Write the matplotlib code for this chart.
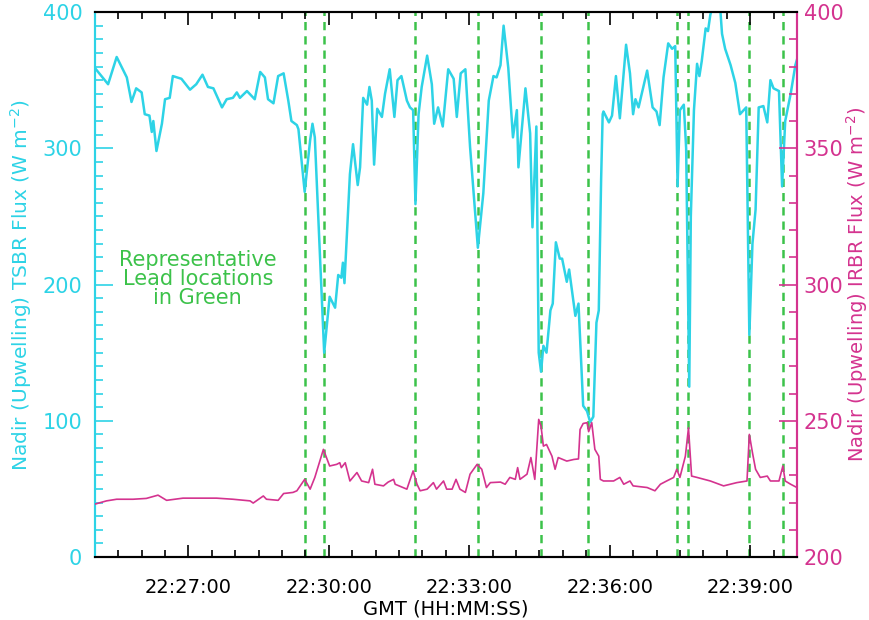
import matplotlib
matplotlib.use("Agg")
import matplotlib.pyplot as plt
from matplotlib.ticker import MultipleLocator, FuncFormatter

START = 22 * 3600 + 25 * 60   # 22:25:00, time axis is seconds after this

# TSBR (shortwave) upwelling flux, left axis
tsbr_t = [0, 17, 28, 41, 47, 53, 60, 64, 70, 73, 75, 79, 86, 90, 96, 100, 111, 122, 130,
          138, 145, 152, 163, 169, 177, 182, 186, 195, 205, 212, 218, 222, 229, 235, 242,
          248, 252, 259, 261, 269, 276, 279, 282, 291, 294, 301, 308, 312, 316, 318, 320,
          327, 331, 337, 340, 344, 349, 352, 355, 358, 362, 368, 372, 378, 384, 388, 393,
          400, 404, 408, 411, 415, 419, 426, 432, 435, 440, 446, 453, 460, 464, 469, 475,
          481, 491, 498, 505, 511, 515, 520, 524, 530, 536, 541, 543, 552, 558, 561, 566,
          569, 572, 575, 579, 584, 587, 591, 596, 599, 605, 608, 616, 620, 626, 631, 635,
          639, 643, 646, 649, 651, 652, 659, 663, 668, 673, 681, 686, 690, 693, 697, 708,
          715, 720, 724, 729, 735, 740, 744, 747, 750, 755, 758, 762, 764, 768, 772, 775,
          778, 783, 786, 789, 795, 801, 804, 808, 815, 821, 827, 835, 839, 843, 847, 851,
          857, 862, 866, 870, 877, 881, 885, 892, 898, 900]
tsbr = [359, 347, 367, 352, 334, 344, 341, 325, 324, 312, 320, 298, 318, 336, 337, 353, 351,
        343, 347, 354, 345, 344, 330, 336, 337, 341, 337, 342, 336, 356, 352, 336, 333, 353,
        355, 335, 320, 317, 314, 268, 306, 318, 308, 189, 150, 191, 183, 207, 205, 216, 201,
        281, 303, 273, 286, 337, 332, 345, 335, 288, 329, 323, 340, 358, 323, 350, 353, 335,
        330, 328, 259, 325, 345, 368, 347, 318, 330, 316, 358, 351, 323, 355, 358, 301, 227,
        267, 335, 353, 352, 361, 390, 359, 308, 328, 286, 344, 311, 242, 316, 150, 136, 155,
        150, 181, 186, 231, 219, 219, 202, 211, 177, 186, 111, 107, 99, 103, 172, 181, 277,
        325, 327, 319, 324, 353, 322, 376, 355, 325, 336, 330, 357, 330, 327, 317, 352, 377,
        373, 375, 272, 328, 332, 300, 125, 250, 328, 362, 353, 364, 388, 386, 398, 410, 408,
        384, 373, 361, 348, 325, 330, 163, 230, 255, 330, 331, 319, 350, 344, 342, 272, 320,
        340, 361, 365]

# IRBR (longwave) upwelling flux, right axis
irbr_t = [0, 15, 28, 49, 66, 81, 92, 113, 135, 156, 177, 199, 203, 216, 220, 235, 242, 254,
          259, 269, 276, 282, 293, 301, 310, 314, 316, 321, 327, 336, 342, 351, 356, 359, 370,
          376, 383, 385, 400, 408, 413, 417, 426, 434, 438, 447, 451, 458, 463, 468, 475, 481,
          490, 496, 502, 507, 520, 526, 532, 539, 542, 545, 554, 559, 564, 569, 572, 575, 579,
          586, 590, 594, 605, 614, 620, 622, 626, 631, 633, 637, 641, 646, 648, 652, 665, 673,
          678, 686, 690, 708, 718, 725, 733, 742, 746, 750, 757, 761, 765, 772, 789, 806, 823,
          836, 839, 843, 847, 853, 862, 866, 877, 882, 885, 892, 900]
irbr = [219.4, 220.6, 221.2, 221.2, 221.5, 222.7, 220.8, 221.6, 221.6, 221.6, 221.2, 220.6,
        219.8, 222.4, 221.2, 220.8, 223.3, 223.7, 224.3, 228.5, 224.9, 229.2, 239.5, 233.4,
        234.0, 234.6, 232.8, 234.6, 227.9, 231.0, 227.9, 227.3, 232.2, 226.7, 226.1, 227.5,
        228.5, 226.7, 224.9, 231.6, 226.7, 224.3, 224.9, 227.3, 224.9, 227.9, 224.9, 224.9,
        228.5, 224.9, 223.7, 230.4, 234.0, 232.2, 225.5, 227.3, 227.5, 226.7, 229.2, 228.5,
        232.8, 228.5, 230.4, 236.5, 228.5, 250.5, 248.0, 240.7, 241.3, 237.0, 232.2, 236.5,
        235.2, 235.8, 236.0, 246.8, 249.0, 249.3, 246.0, 249.3, 239.5, 237.0, 228.5, 227.9,
        227.9, 229.2, 226.7, 227.9, 226.1, 225.5, 224.3, 226.7, 227.9, 229.2, 232.2, 229.2,
        237.0, 247.4, 229.7, 229.2, 227.9, 226.1, 227.3, 227.9, 245.0, 238.3, 232.2, 229.2,
        229.7, 227.9, 227.9, 233.4, 227.9, 226.7, 225.5]

# representative lead locations
leads = [269, 294, 410, 491, 572, 632, 746, 761, 839, 882]

CYAN = "#2dd3e6"
MAGENTA = "#d4338f"
GREEN = "#3cc24a"


def hms(x, pos):
    s = int(round(START + x))
    return "%02d:%02d:%02d" % (s // 3600, (s // 60) % 60, s % 60)


fig = plt.figure(figsize=(8.7, 6.2), dpi=100)
ax = fig.add_axes([0.109, 0.1016, 0.807, 0.879])
ax2 = ax.twinx()

for x in leads:
    ax.axvline(x, color=GREEN, lw=1.8, linestyle=(0, (3.3, 2.4)), zorder=1)

ax.plot(tsbr_t, tsbr, color=CYAN, lw=1.8, zorder=3)
ax2.plot(irbr_t, irbr, color=MAGENTA, lw=1.2, zorder=3)

ax.set_xlim(0, 900)
ax.set_ylim(0, 400)
ax2.set_ylim(200, 400)

# major ticks on whole 3-minute marks of the clock (22:27, 22:30, ...)
ax.xaxis.set_major_locator(MultipleLocator(180, offset=120))
ax.xaxis.set_minor_locator(MultipleLocator(30))
ax.xaxis.set_major_formatter(FuncFormatter(hms))
ax.yaxis.set_major_locator(MultipleLocator(100))
ax.yaxis.set_minor_locator(MultipleLocator(10))
ax2.yaxis.set_major_locator(MultipleLocator(50))
ax2.yaxis.set_minor_locator(MultipleLocator(10))

ax.tick_params(axis="x", which="both", direction="in", top=True, colors="black",
               labelsize=14, pad=15)
ax.tick_params(axis="x", which="major", length=9, width=1.2)
ax.tick_params(axis="x", which="minor", length=5, width=1.2)
ax.tick_params(axis="y", which="both", direction="in", colors=CYAN, labelsize=15, pad=9)
ax.tick_params(axis="y", which="major", length=13, width=1.2)
ax.tick_params(axis="y", which="minor", length=6, width=1.2)
ax2.tick_params(axis="y", which="both", direction="in", colors=MAGENTA, labelsize=15, pad=5)
ax2.tick_params(axis="y", which="major", length=13, width=1.2)
ax2.tick_params(axis="y", which="minor", length=6, width=1.2)

for a in (ax, ax2):
    a.spines["top"].set_color("black")
    a.spines["bottom"].set_color("black")
    a.spines["left"].set_color(CYAN)
    a.spines["right"].set_color(MAGENTA)
    for sp in a.spines.values():
        sp.set_linewidth(1.5)

ax.set_xlabel("GMT (HH:MM:SS)", fontsize=14, labelpad=2)
ax.set_ylabel("Nadir (Upwelling) TSBR Flux (W m$^{-2}$)", fontsize=14.5, color=CYAN,
              labelpad=6)
ax2.set_ylabel("Nadir (Upwelling) IRBR Flux (W m$^{-2}$)", fontsize=14, color=MAGENTA,
               labelpad=0)

ax.text(132, 204, "Representative\nLead locations\nin Green", color=GREEN, fontsize=15,
        ha="center", va="center", linespacing=0.95)

fig.savefig("out.png", dpi=100)
